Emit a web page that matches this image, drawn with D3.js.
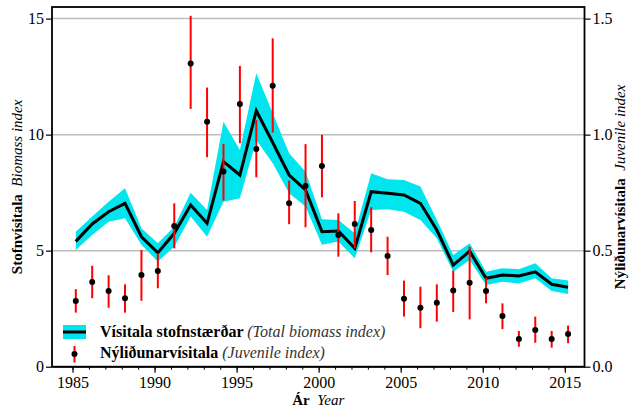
<!DOCTYPE html>
<html>
<head>
<meta charset="utf-8">
<script src="https://cdn.jsdelivr.net/npm/d3@7"></script>
<style>
  body { margin: 0; background: #fff; }
  text { font-family: "Liberation Serif", "Times New Roman", serif; }
</style>
</head>
<body>
<div id="chart"></div>
<script>
// survey years (points sit a bit after the year mark, spring survey)
const years = d3.range(1985, 2016);

// Vísitala stofnstærðar (Total biomass index) with its band
const biomass = [5.4, 6.15, 6.68, 7.04, 5.6, 4.91, 5.75, 6.97, 6.18, 8.84, 8.26, 11.03, 9.66, 8.26, 7.62, 5.82,
  5.85, 5.1, 7.54, 7.47, 7.4, 7.04, 5.89, 4.38, 4.98, 3.81, 3.95, 3.91, 4.09, 3.55, 3.42];
const biomassHigh = [5.82, 6.47, 7.11, 7.69, 5.97, 5.32, 6.03, 7.5, 6.75, 10.56, 9.34, 12.65, 10.92, 9.2, 8.4, 6.35,
  6.32, 5.75, 8.34, 8.08, 8.05, 7.76, 6.32, 4.81, 5.32, 4.09, 4.24, 4.2, 4.46, 3.81, 3.71];
const biomassLow = [5.03, 5.68, 6.25, 6.4, 5.25, 4.53, 5.17, 6.47, 5.6, 7.11, 7.26, 9.77, 8.77, 7.47, 6.9, 5.25,
  5.39, 4.67, 6.75, 6.78, 6.68, 6.32, 5.53, 4.09, 4.6, 3.52, 3.66, 3.59, 3.81, 3.26, 3.13];

// Nýliðunarvísitala (Juvenile index), right axis
const juvenile = [0.283, 0.365, 0.326, 0.295, 0.395, 0.412, 0.606, 1.306, 1.055, 0.841, 1.132, 0.938, 1.211, 0.704, 0.779, 0.865,
  0.568, 0.615, 0.589, 0.477, 0.293, 0.254, 0.276, 0.328, 0.362, 0.326, 0.219, 0.119, 0.158, 0.119, 0.141];
const juvenileHigh = [0.334, 0.435, 0.394, 0.355, 0.503, 0.489, 0.704, 1.512, 1.203, 0.96, 1.296, 1.063, 1.415, 0.802, 0.959, 0.999,
  0.661, 0.714, 0.687, 0.56, 0.371, 0.345, 0.355, 0.414, 0.517, 0.384, 0.273, 0.154, 0.216, 0.154, 0.177];
const juvenileLow = [0.233, 0.295, 0.254, 0.233, 0.284, 0.338, 0.51, 1.111, 0.903, 0.716, 0.963, 0.816, 1.009, 0.614, 0.601, 0.73,
  0.474, 0.51, 0.493, 0.395, 0.216, 0.166, 0.194, 0.236, 0.204, 0.273, 0.162, 0.086, 0.103, 0.082, 0.101];

const leftTicks = [0, 5, 10, 15];
const rightTicks = [0, 0.5, 1.0, 1.5];
const yearTicks = [1985, 1990, 1995, 2000, 2005, 2010, 2015];

const width = 630;
const height = 410;
const margin = { top: 7, right: 45.5, bottom: 43.3, left: 52 };
const offset = 0.2;

const svg = d3.select("#chart")
    .append("svg")
    .attr("width", width)
    .attr("height", height);

const x = d3.scaleLinear()
    .domain([1983.75, 2016.2])
    .range([margin.left, width - margin.right]);

const y = d3.scaleLinear()
    .domain([0, 15.5])
    .range([height - margin.bottom, margin.top]);

const y2 = d3.scaleLinear()
    .domain([0, 1.55])
    .range([height - margin.bottom, margin.top]);

const cyan = "#00e5ee";

// Gridlines
svg.append("g")
    .selectAll("line")
    .data(leftTicks.filter(d => d > 0))
    .enter()
    .append("line")
    .attr("x1", margin.left)
    .attr("x2", width - margin.right)
    .attr("y1", d => y(d))
    .attr("y2", d => y(d))
    .attr("stroke", "#bdbdbd")
    .attr("stroke-width", 1.5);

const rows = years.map((yr, i) => ({
    yr: yr + offset,
    b: biomass[i], bh: biomassHigh[i], bl: biomassLow[i],
    j: juvenile[i], jh: juvenileHigh[i], jl: juvenileLow[i]
}));

// Biomass band and line
svg.append("path")
    .datum(rows)
    .attr("fill", cyan)
    .attr("d", d3.area().x(d => x(d.yr)).y0(d => y(d.bl)).y1(d => y(d.bh)));

svg.append("path")
    .datum(rows)
    .attr("fill", "none")
    .attr("stroke", "#000")
    .attr("stroke-width", 3)
    .attr("stroke-linejoin", "miter")
    .attr("d", d3.line().x(d => x(d.yr)).y(d => y(d.b)));

// Juvenile index with error bars
svg.append("g")
    .selectAll("line")
    .data(rows)
    .enter()
    .append("line")
    .attr("x1", d => x(d.yr))
    .attr("x2", d => x(d.yr))
    .attr("y1", d => y2(d.jl))
    .attr("y2", d => y2(d.jh))
    .attr("stroke", "#ff0000")
    .attr("stroke-width", 2);

svg.append("g")
    .selectAll("circle")
    .data(rows)
    .enter()
    .append("circle")
    .attr("cx", d => x(d.yr))
    .attr("cy", d => y2(d.j))
    .attr("r", 3)
    .attr("fill", "#000");

// Axes
const fmtRight = d3.format(".1f");

const xAxis = svg.append("g")
    .attr("transform", `translate(0,${height - margin.bottom})`)
    .call(d3.axisBottom(x).tickValues(yearTicks).tickFormat(d3.format("d")).tickSize(6).tickSizeOuter(0));

svg.append("g")
    .attr("transform", `translate(0,${height - margin.bottom})`)
    .call(d3.axisBottom(x).tickValues(years).tickFormat("").tickSize(3).tickSizeOuter(0));

const yAxis = svg.append("g")
    .attr("transform", `translate(${margin.left},0)`)
    .call(d3.axisLeft(y).tickValues(leftTicks).tickSize(6).tickSizeOuter(0));

const y2Axis = svg.append("g")
    .attr("transform", `translate(${width - margin.right},0)`)
    .call(d3.axisRight(y2).tickValues(rightTicks).tickFormat(fmtRight).tickSize(6).tickSizeOuter(0));

[xAxis, yAxis, y2Axis].forEach(g => {
    g.attr("font-family", null).attr("font-size", null);
    g.selectAll("text")
        .style("font-family", "'Liberation Serif', serif")
        .style("font-size", "16px")
        .attr("fill", "#000");
    g.selectAll("line").attr("stroke", "#000").attr("stroke-width", 1.2);
    g.select(".domain").remove();
});
xAxis.selectAll("text").attr("dy", "0.75em").attr("y", 9);
yAxis.selectAll("text").attr("x", -8);
y2Axis.selectAll("text").attr("x", 8);

// Frame
svg.append("rect")
    .attr("x", margin.left)
    .attr("y", margin.top)
    .attr("width", width - margin.left - margin.right)
    .attr("height", height - margin.top - margin.bottom)
    .attr("fill", "none")
    .attr("stroke", "#000")
    .attr("stroke-width", 1.8);

// Axis titles
const midY = (margin.top + height - margin.bottom) / 2;

const leftTitle = svg.append("text")
    .attr("transform", `translate(22,${midY}) rotate(-90)`)
    .attr("text-anchor", "middle")
    .style("font-size", "15px");
leftTitle.append("tspan").attr("font-weight", "bold").text("Stofnvísitala");
leftTitle.append("tspan").attr("font-style", "italic").text("\u2002Biomass index");

const rightTitle = svg.append("text")
    .attr("transform", `translate(625,${midY}) rotate(-90)`)
    .attr("text-anchor", "middle")
    .style("font-size", "15px");
rightTitle.append("tspan").attr("font-weight", "bold").text("Nýliðunarvísitala");
rightTitle.append("tspan").attr("font-style", "italic").text("\u2002Juvenile index");

const xTitle = svg.append("text")
    .attr("x", (margin.left + width - margin.right) / 2)
    .attr("y", 405)
    .attr("text-anchor", "middle")
    .style("font-size", "15px");
xTitle.append("tspan").attr("font-weight", "bold").text("Ár");
xTitle.append("tspan").attr("font-style", "italic").text("\u2002Year");

// Legend
const legend = svg.append("g").attr("transform", "translate(63,325)");

legend.append("rect")
    .attr("width", 23)
    .attr("height", 14)
    .attr("fill", cyan);
legend.append("line")
    .attr("x1", 0).attr("x2", 23)
    .attr("y1", 7).attr("y2", 7)
    .attr("stroke", "#000")
    .attr("stroke-width", 3);
legend.append("line")
    .attr("x1", 11.5).attr("x2", 11.5)
    .attr("y1", 21).attr("y2", 37.5)
    .attr("stroke", "#ff0000")
    .attr("stroke-width", 2);
legend.append("circle")
    .attr("cx", 11.5)
    .attr("cy", 29)
    .attr("r", 3)
    .attr("fill", "#000");

const leg1 = legend.append("text").attr("x", 37).attr("y", 12).style("font-size", "16px");
leg1.append("tspan").attr("font-weight", "bold").text("Vísitala stofnstærðar ");
leg1.append("tspan").attr("font-style", "italic").attr("fill", "#333").text("(Total biomass index)");

const leg2 = legend.append("text").attr("x", 37).attr("y", 33).style("font-size", "16px");
leg2.append("tspan").attr("font-weight", "bold").text("Nýliðunarvísitala ");
leg2.append("tspan").attr("font-style", "italic").attr("fill", "#333").text("(Juvenile index)");
</script>
</body>
</html>
